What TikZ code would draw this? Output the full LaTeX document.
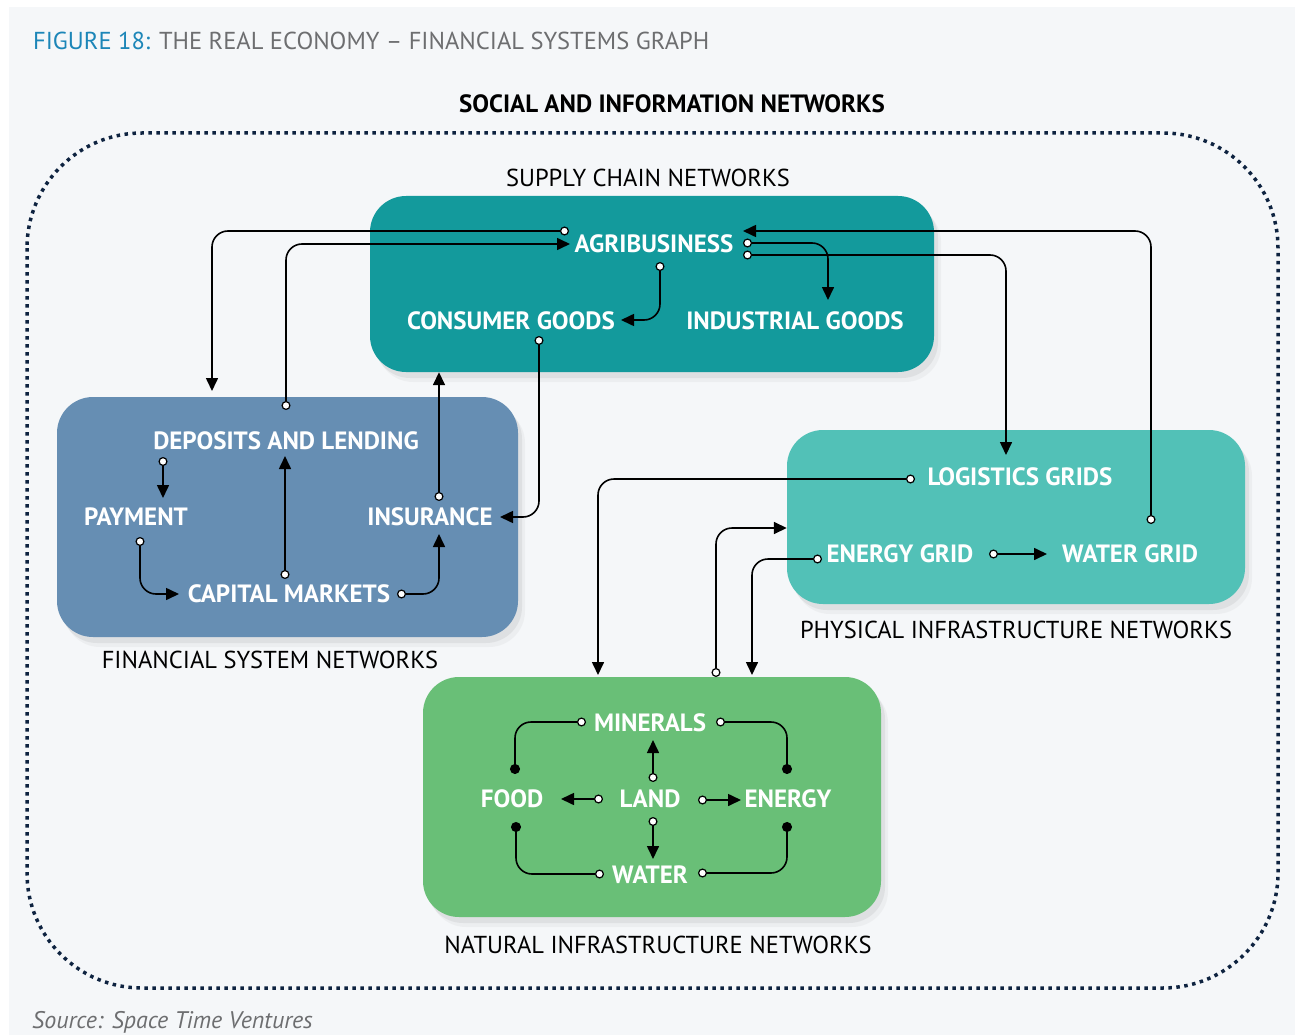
\documentclass[tikz,border=0pt]{standalone}
\usepackage{fontspec}
\setmainfont{PT Sans}
\usepackage{tikz}
\usetikzlibrary{arrows.meta,shadows,positioning}

\definecolor{PanelGray}{HTML}{F5F7F9}
\definecolor{TitleBlue}{HTML}{1C86B8}
\definecolor{TitleGray}{HTML}{6D6E70}
\definecolor{FrameNavy}{HTML}{0E2340}
\definecolor{SupplyTeal}{HTML}{139A9C}
\definecolor{FinanceBlue}{HTML}{668EB3}
\definecolor{PhysicalTeal}{HTML}{52C1B7}
\definecolor{NaturalGreen}{HTML}{69BF77}

\begin{document}
\begin{tikzpicture}[x=1pt, y=-1pt]
		\tikzstyle{Box}		= [rounded corners=36, inner sep=0pt,
							   drop shadow={shadow xshift=7pt, shadow yshift=-10pt, opacity=0.07},
							   drop shadow={shadow xshift=4pt, shadow yshift=-6pt, opacity=0.12}]
		\tikzstyle{Item}	= [white, inner sep=0pt, font=\fontsize{25}{28}\selectfont\bfseries]
		\tikzstyle{Group}	= [black, inner sep=0pt, font=\fontsize{24.5}{28}\selectfont]
		\tikzstyle{Link}	= [line width=1.6pt, rounded corners=16,
							   {Circle[fill=white, length=9pt, line width=1.2pt]}-{Triangle[length=13pt, width=12pt]}]
		\tikzstyle{Tie}		= [line width=1.6pt, rounded corners=16,
							   {Circle[fill=white, length=9pt, line width=1.2pt]}-{Circle[length=10pt]}]

		\useasboundingbox (0,0) rectangle (1295,1035);
		\fill[white] (0,0) rectangle (1295,1035);
		\fill[PanelGray] (9,7) rectangle (1295,1035);

		% titles
		\node (title) at (33, 41) [anchor=west, inner sep=0pt, font=\fontsize{24.5}{28}\selectfont]
			{\textcolor{TitleBlue}{FIGURE 18:} \textcolor{TitleGray}{THE REAL ECONOMY -- FINANCIAL SYSTEMS GRAPH}};
		\node (social) at (672, 104) [inner sep=0pt, font=\fontsize{25}{28}\selectfont\bfseries] {SOCIAL AND INFORMATION NETWORKS};
		\node (source) at (32, 1022) [anchor=west, inner sep=0pt, TitleGray, font=\fontsize{24}{28}\selectfont\itshape] {Source: Space Time Ventures};

		\draw [FrameNavy, line width=3.5pt, dash pattern=on 3.5pt off 4.5pt, rounded corners=115] (27,133) rectangle (1278,988);

		% network boxes
		\node (supply) at (652, 284) [Box, fill=SupplyTeal, minimum width=564, minimum height=176] {};
		\node (finance) at (287.5, 517) [Box, fill=FinanceBlue, minimum width=461, minimum height=240] {};
		\node (physical) at (1016, 517) [Box, fill=PhysicalTeal, minimum width=458, minimum height=174] {};
		\node (natural) at (652, 797) [Box, fill=NaturalGreen, minimum width=458, minimum height=240] {};

		\node (supplyname) at (648, 178) [Group] {SUPPLY CHAIN NETWORKS};
		\node (financename) at (270, 660) [Group] {FINANCIAL SYSTEM NETWORKS};
		\node (physicalname) at (1016, 630) [Group] {PHYSICAL INFRASTRUCTURE NETWORKS};
		\node (naturalname) at (658, 945) [Group] {NATURAL INFRASTRUCTURE NETWORKS};

		% supply chain
		\node (agri) at (654, 244) [Item] {AGRIBUSINESS};
		\node (cons) at (511, 321) [Item] {CONSUMER GOODS};
		\node (indu) at (795, 321) [Item] {INDUSTRIAL GOODS};

		% financial system
		\node (depo) at (286, 441) [Item] {DEPOSITS AND LENDING};
		\node (paym) at (136, 517) [Item] {PAYMENT};
		\node (insu) at (430, 517) [Item] {INSURANCE};
		\node (capi) at (289, 594) [Item] {CAPITAL MARKETS};

		% physical infrastructure
		\node (logi) at (1020, 477) [Item] {LOGISTICS GRIDS};
		\node (egrd) at (900, 554) [Item] {ENERGY GRID};
		\node (wgrd) at (1130, 554) [Item] {WATER GRID};

		% natural infrastructure
		\node (mine) at (650, 723) [Item] {MINERALS};
		\node (food) at (512, 799) [Item] {FOOD};
		\node (land) at (650, 799) [Item] {LAND};
		\node (ener) at (788, 799) [Item] {ENERGY};
		\node (watr) at (650, 875) [Item] {WATER};

		% connector ends
		\coordinate (agri1) at (569, 231);
		\coordinate (agri2) at (570, 244);
		\coordinate (agri3) at (660, 262);
		\coordinate (agri4) at (743, 243);
		\coordinate (agri5) at (743, 255);
		\coordinate (agri6) at (743, 231);
		\coordinate (cons1) at (621, 320);
		\coordinate (cons2) at (539, 336);
		\coordinate (indu1) at (828, 300);
		\coordinate (depo1) at (286, 410);
		\coordinate (depo2) at (163, 457);
		\coordinate (depo3) at (285, 456);
		\coordinate (paym1) at (163, 498);
		\coordinate (paym2) at (140, 537);
		\coordinate (insu1) at (500, 517);
		\coordinate (insu2) at (439, 501);
		\coordinate (insu3) at (439, 534);
		\coordinate (capi1) at (179, 594);
		\coordinate (capi2) at (285, 579);
		\coordinate (capi3) at (397, 594);
		\coordinate (logi1) at (1006, 455);
		\coordinate (logi2) at (915, 479);
		\coordinate (egrd1) at (822, 559);
		\coordinate (egrd2) at (989, 554);
		\coordinate (wgrd1) at (1047, 554);
		\coordinate (wgrd2) at (1151, 524);
		\coordinate (fin1) at (212, 391);
		\coordinate (nat1) at (598, 675);
		\coordinate (nat2) at (716, 677);
		\coordinate (nat3) at (752, 675);
		\coordinate (mine1) at (586, 722);
		\coordinate (mine2) at (716, 722);
		\coordinate (mine3) at (653, 740);
		\coordinate (land1) at (653, 782);
		\coordinate (land2) at (603, 799);
		\coordinate (land3) at (698, 800);
		\coordinate (land4) at (653, 817);
		\coordinate (food1) at (515, 774);
		\coordinate (food2) at (561, 799);
		\coordinate (food3) at (516, 822);
		\coordinate (ener1) at (787, 774);
		\coordinate (ener2) at (741, 800);
		\coordinate (ener3) at (787, 822);
		\coordinate (watr1) at (653, 859);
		\coordinate (watr2) at (604, 874);
		\coordinate (watr3) at (698, 873);

		% supply chain links
		\draw [Link] (agri1) -| (fin1);
		\draw [Link] (depo1) |- (agri2);
		\draw [Link] (agri3) |- (cons1);
		\draw [Link] (agri4) -| (indu1);
		\draw [Link] (agri5) -| (logi1);
		\draw [Link] (wgrd2) |- (agri6);
		\draw [Link] (cons2) |- (insu1);
		\draw [Link] (insu2) -- (insu2 |- supply.south);

		% financial links
		\draw [Link] (depo2) -- (paym1);
		\draw [Link] (paym2) |- (capi1);
		\draw [Link] (capi2) -- (depo3);
		\draw [Link] (capi3) -| (insu3);

		% physical links
		\draw [Link] (logi2) -| (nat1);
		\draw [Link] (nat2) |- (physical.west |- 0,528);
		\draw [Link] (egrd1) -| (nat3);
		\draw [Link] (egrd2) -- (wgrd1);

		% natural links
		\draw [Tie] (mine1) -| (food1);
		\draw [Tie] (mine2) -| (ener1);
		\draw [Tie] (watr2) -| (food3);
		\draw [Tie] (watr3) -| (ener3);
		\draw [Link] (land1) -- (mine3);
		\draw [Link] (land2) -- (food2);
		\draw [Link] (land3) -- (ener2);
		\draw [Link] (land4) -- (watr1);
	\end{tikzpicture}
\end{document}
